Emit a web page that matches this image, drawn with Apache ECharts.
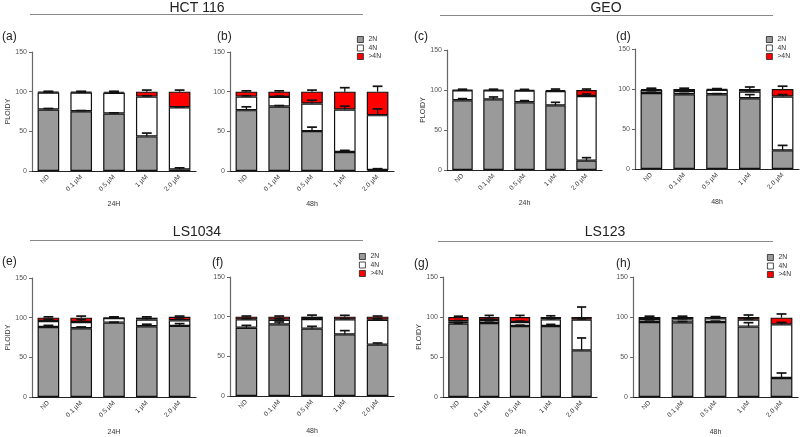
<!DOCTYPE html>
<html><head><meta charset="utf-8">
<script src="https://cdn.jsdelivr.net/npm/echarts@6/dist/echarts.min.js"></script>
<style>html,body{margin:0;padding:0;background:#fff}#c{width:800px;height:437px}</style>
</head><body><div id="c"></div>
<script>
// ---------- DATA ----------
const categories = ['ND', '0.1 µM', '0.5 µM', '1 µM', '2.0 µM'];
const segmentNames = ['2N', '4N', '>4N'];
const cellLines = ['HCT 116', 'GEO', 'LS1034', 'LS123'];
const panelLetters = ['(a)', '(b)', '(c)', '(d)', '(e)', '(f)', '(g)', '(h)'];
const timeLabels = ['24H', '48h', '24h', '48h', '24H', '48h', '24h', '48h'];
const yTicks = [0, 50, 100, 150];

// (a) HCT 116, 24H
const a2N = [77.5, 75.4, 72.5, 43.6, 2.0];
const a4N = [21.5, 23.6, 26.0, 50.2, 78.4];
const aGt4N = [1.0, 1.0, 1.5, 6.2, 19.6];
const a2NErr = [1.3, 0.8, 0.8, 4.2, 2.0];
const a4NErr = [0.5, 0.5, 0.5, 1.0, 0.5];
const aGt4NErr = [0.5, 0.5, 0.5, 2.0, 2.0];
// (b) HCT 116, 48h
const b2N = [76.7, 81.3, 50.3, 23.9, 1.3];
const b4N = [17.1, 12.1, 34.7, 53.6, 69.1];
const bGt4N = [6.2, 6.6, 15.0, 22.5, 29.6];
const b2NErr = [4.2, 1.2, 5.0, 2.1, 1.6];
const b4NErr = [1.0, 1.0, 4.2, 4.2, 7.9];
const bGt4NErr = [1.0, 1.0, 2.0, 5.0, 6.8];
// (c) GEO, 24h
const c2N = [87.1, 88.3, 84.6, 80.8, 11.7];
const c4N = [12.5, 11.3, 14.6, 18.0, 80.8];
const cGt4N = [0.4, 0.4, 0.8, 1.2, 7.5];
const c2NErr = [2.1, 3.0, 2.1, 3.8, 3.7];
const c4NErr = [0.5, 0.5, 0.5, 0.5, 2.5];
const cGt4NErr = [1.0, 1.0, 0.8, 1.2, 1.2];
// (d) GEO, 48h
const d2N = [95.0, 93.5, 93.5, 88.5, 23.3];
const d4N = [3.8, 4.0, 5.5, 8.3, 67.3];
const dGt4N = [1.2, 2.5, 1.0, 3.2, 9.4];
const d2NErr = [1.0, 1.0, 0.7, 4.5, 6.2];
const d4NErr = [1.0, 1.0, 0.5, 1.0, 2.4];
const dGt4NErr = [1.0, 1.0, 0.5, 2.5, 3.5];
// (e) LS1034, 24H
const e2N = [88.3, 86.7, 93.8, 89.2, 89.6];
const e4N = [7.5, 7.9, 5.8, 8.3, 7.1];
const eGt4N = [4.2, 5.4, 0.4, 2.5, 4.3];
const e2NErr = [2.0, 1.6, 0.5, 2.5, 2.9];
const e4NErr = [2.0, 2.9, 0.5, 1.5, 1.5];
const eGt4NErr = [1.0, 2.0, 1.0, 1.0, 1.0];
// (f) LS1034, 48h
const f2N = [86.1, 90.3, 84.9, 77.7, 64.7];
const f4N = [10.5, 5.9, 12.1, 18.9, 31.5];
const fGt4N = [3.4, 3.8, 3.0, 3.4, 3.8];
const f2NErr = [2.9, 3.0, 2.9, 4.7, 2.1];
const f4NErr = [1.0, 1.0, 1.0, 1.0, 1.0];
const fGt4NErr = [0.8, 0.8, 2.0, 1.7, 0.8];
// (g) LS123, 24h
const g2N = [91.7, 92.5, 88.8, 88.8, 58.3];
const g4N = [2.9, 3.7, 5.0, 8.2, 38.4];
const gGt4N = [5.4, 3.8, 6.2, 3.0, 3.3];
const g2NErr = [0.5, 1.0, 1.0, 2.0, 15.5];
const g4NErr = [1.0, 1.0, 1.0, 1.0, 1.0];
const gGt4NErr = [1.0, 2.0, 2.0, 1.5, 12.5];
// (h) LS123, 48h
const h2N = [93.8, 93.3, 93.8, 88.0, 23.8];
const h4N = [3.7, 3.7, 4.5, 8.7, 67.0];
const hGt4N = [2.5, 3.0, 1.7, 3.3, 8.4];
const h2NErr = [1.0, 1.0, 1.0, 4.9, 6.2];
const h4NErr = [1.0, 1.0, 0.5, 1.0, 2.5];
const hGt4NErr = [1.0, 1.0, 0.5, 2.5, 4.6];

const panelValues = [
  [a2N, a4N, aGt4N], [b2N, b4N, bGt4N], [c2N, c4N, cGt4N], [d2N, d4N, dGt4N],
  [e2N, e4N, eGt4N], [f2N, f4N, fGt4N], [g2N, g4N, gGt4N], [h2N, h4N, hGt4N]
];
const panelErrors = [
  [a2NErr, a4NErr, aGt4NErr], [b2NErr, b4NErr, bGt4NErr], [c2NErr, c4NErr, cGt4NErr], [d2NErr, d4NErr, dGt4NErr],
  [e2NErr, e4NErr, eGt4NErr], [f2NErr, f4NErr, fGt4NErr], [g2NErr, g4NErr, gGt4NErr], [h2NErr, h4NErr, hGt4NErr]
];

// ---------- LAYOUT ----------
const FONT = 'Liberation Sans, Arial, sans-serif';
const gridsPos = [
  {left: 32, top: 52, width: 164, height: 119},
  {left: 230, top: 52, width: 164, height: 119},
  {left: 447, top: 50, width: 155, height: 120},
  {left: 635, top: 49, width: 164, height: 120},
  {left: 32, top: 278, width: 164, height: 120},
  {left: 230, top: 277, width: 164, height: 119},
  {left: 443, top: 277, width: 154, height: 120},
  {left: 633, top: 277, width: 165, height: 120}
];
const letterPos = [[2, 38], [217, 38], [414, 38], [616, 38], [2, 263], [212, 264], [414, 265], [616, 265]];
const showYName = [true, false, true, false, true, false, true, false];
const legendPos = {1: [357, 36], 3: [766, 36], 5: [359, 253], 7: [767, 254]};
const titlePos = [
  {x: 197, y: 8, lx1: 30, lx2: 363, ly: 14.5},
  {x: 606, y: 8, lx1: 440, lx2: 773, ly: 15.5},
  {x: 197, y: 232, lx1: 30, lx2: 363, ly: 240.5},
  {x: 605, y: 232, lx1: 438, lx2: 773, ly: 241.5}
];
const colors = ['#9a9a9a', '#ffffff', '#ff0000'];

const grid = [], xAxis = [], yAxis = [], series = [], legend = [], graphic = [];

function errRender(params, api) {
  const x = api.value(0), top = api.value(1), err = api.value(2);
  const p0 = api.coord([x, top]);
  const p1 = api.coord([x, top + err]);
  const bw = api.size([1, 0])[0];
  const hw = bw * 0.15;
  return {
    type: 'group',
    children: [
      {type: 'line', shape: {x1: p0[0], y1: p0[1], x2: p1[0], y2: p1[1]}, style: {stroke: '#111', lineWidth: 1.3}},
      {type: 'line', shape: {x1: p1[0] - hw, y1: p1[1], x2: p1[0] + hw, y2: p1[1]}, style: {stroke: '#111', lineWidth: 1.7}}
    ]
  };
}

for (let p = 0; p < 8; p++) {
  grid.push(Object.assign({containLabel: false}, gridsPos[p]));
  xAxis.push({
    type: 'category', gridIndex: p, data: categories,
    name: timeLabels[p], nameLocation: 'middle', nameGap: p < 4 ? 30 : 32,
    nameTextStyle: {fontSize: 7, color: '#333', fontFamily: FONT},
    axisLine: {lineStyle: {color: '#222', width: 1.2}},
    axisTick: {alignWithLabel: true, length: 3, lineStyle: {color: '#222'}},
    axisLabel: {rotate: 45, fontSize: 6.5, color: '#333', fontFamily: FONT, margin: 5, interval: 0}
  });
  yAxis.push({
    type: 'value', gridIndex: p, min: yTicks[0], max: yTicks[yTicks.length - 1], interval: yTicks[1] - yTicks[0],
    name: showYName[p] ? 'PLOIDY' : '', nameLocation: 'middle', nameGap: 20, nameRotate: 90,
    nameTextStyle: {fontSize: 7, color: '#333', fontFamily: FONT},
    axisLine: {show: true, lineStyle: {color: '#666', width: 1.2}},
    axisTick: {show: true, length: 3, lineStyle: {color: '#666'}},
    axisLabel: {fontSize: 7, color: '#555', fontFamily: FONT, margin: 5},
    splitLine: {show: false}
  });
  const vals = panelValues[p], errs = panelErrors[p];
  const errData = [];
  const cum = categories.map(() => 0);
  for (let s = 0; s < 3; s++) {
    series.push({
      type: 'bar', name: segmentNames[s], stack: 'st' + p, xAxisIndex: p, yAxisIndex: p,
      data: vals[s], barWidth: '66%',
      itemStyle: {color: colors[s], borderColor: '#111', borderWidth: 1.2},
      emphasis: {disabled: true}, animation: false, z: 2
    });
    for (let i = 0; i < categories.length; i++) {
      cum[i] += vals[s][i];
      errData.push([i, cum[i], errs[s][i]]);
    }
  }
  series.push({
    type: 'custom', name: 'err' + p, xAxisIndex: p, yAxisIndex: p, data: errData,
    renderItem: errRender, encode: {x: 0, y: 1}, z: 5, clip: false, animation: false, silent: true
  });
  graphic.push({
    type: 'text', left: letterPos[p][0], top: letterPos[p][1] - 7,
    style: {text: panelLetters[p], font: '12px ' + FONT, fill: '#222'}
  });
  if (legendPos[p]) {
    legend.push({
      orient: 'vertical', left: legendPos[p][0], top: legendPos[p][1], data: segmentNames,
      icon: 'rect', itemWidth: 6, itemHeight: 6, itemGap: 1.5,
      itemStyle: {borderColor: '#222', borderWidth: 0.8},
      textStyle: {fontSize: 6.8, color: '#333', fontFamily: FONT, lineHeight: 7},
      padding: 0, selectedMode: false
    });
  }
}

titlePos.forEach((t, k) => {
  graphic.push({
    type: 'text', x: t.x, y: t.y,
    style: {text: cellLines[k], font: '14px ' + FONT, fill: '#222', textAlign: 'center', textVerticalAlign: 'middle'}
  });
  graphic.push({
    type: 'line', shape: {x1: t.lx1, y1: t.ly, x2: t.lx2, y2: t.ly},
    style: {stroke: '#888', lineWidth: 1}
  });
});

const chart = echarts.init(document.getElementById('c'), null, {renderer: 'canvas'});
chart.setOption({
  animation: false, backgroundColor: '#fff',
  grid, xAxis, yAxis, series, legend, graphic
});
</script></body></html>
